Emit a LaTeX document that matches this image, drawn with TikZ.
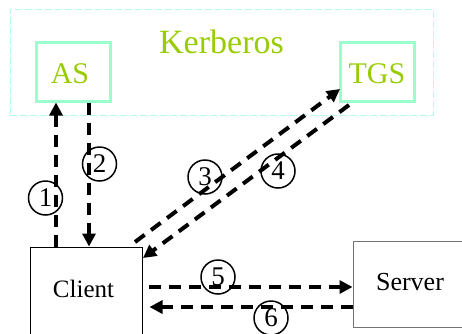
\documentclass[tikz,border=0pt]{standalone}
\usepackage{fontspec}
\setmainfont{Liberation Serif}
\usetikzlibrary{arrows.meta}
\definecolor{kgreen}{HTML}{99CC00}
\definecolor{aqua}{HTML}{99FFCC}
\definecolor{aqualight}{HTML}{B3FFE0}
\tikzset{
  kbox/.style={draw=aqua, line width=3pt, minimum width=74pt, minimum height=59pt, inner sep=0pt, text=kgreen, font=\fontsize{30}{30}\selectfont},
  plainbox/.style={draw=black, line width=1pt, inner sep=0pt},
  flow/.style={line width=4pt, dash pattern=on 12pt off 8pt, -{Triangle[length=13pt,width=13pt]}},
  numc/.style={circle, draw=black, line width=1.5pt, minimum size=34pt, inner sep=0pt, font=\fontsize{27}{27}\selectfont}
}
\begin{document}
\begin{tikzpicture}[x=1pt,y=-1pt]
\clip (0,0) rectangle (462,333);
\useasboundingbox (0,0) rectangle (462,333);
% Kerberos group
\node[draw=aqualight, line width=1pt, dash pattern=on 7pt off 3pt, minimum width=423pt, minimum height=106pt, inner sep=0pt] (kerb) at (221.5,62) {};
\node[text=kgreen, font=\fontsize{34}{34}\selectfont, anchor=base] (kerbl) at (221.5,53) {Kerberos};
\node[kbox] (as) at (73,71.5) {};
\node[text=kgreen, font=\fontsize{30}{30}\selectfont, anchor=base] (asl) at (70,83) {AS};
\node[kbox] (tgs) at (377.5,71.5) {};
\node[text=kgreen, font=\fontsize{30}{30}\selectfont, anchor=base] (tgsl) at (377,83) {TGS};
% Client and Server
\node[plainbox, minimum width=112pt, minimum height=110pt] (client) at (86,302) {};
\node[font=\fontsize{25}{25}\selectfont, anchor=base] (clientl) at (83.5,297) {Client};
\node[plainbox, draw=black!55, minimum width=130pt, minimum height=86pt] (server) at (418,284) {};
\node[font=\fontsize{26}{26}\selectfont, anchor=base] (serverl) at (410,290) {Server};
% connectors
\coordinate (c3s) at (135,242);
\coordinate (t3e) at (340,89);
\coordinate (t4s) at (349,105);
\coordinate (c4e) at (143,258);
\draw[flow] (client.north -| 56,0) -- (as.south -| 56,0);
\draw[flow] (as.south -| 89,0) -- (client.north -| 89,0);
\draw[flow] (c3s) -- (t3e);
\draw[flow] (t4s) -- (c4e);
\draw[flow] (client.east |- 0,287) ++(6,0) -- (server.west |- 0,287);
\draw[flow] (server.west |- 0,307) -- ([xshift=7pt]client.east |- 0,307);
% numbers
\node[numc] (n1) at (45.5,198) {1};
\node[numc] (n2) at (99.5,164) {2};
\node[numc] (n3) at (205,177) {3};
\node[numc] (n4) at (278,171) {4};
\node[numc] (n5) at (218,277) {5};
\node[numc] (n6) at (271,318) {6};
\end{tikzpicture}
\end{document}
